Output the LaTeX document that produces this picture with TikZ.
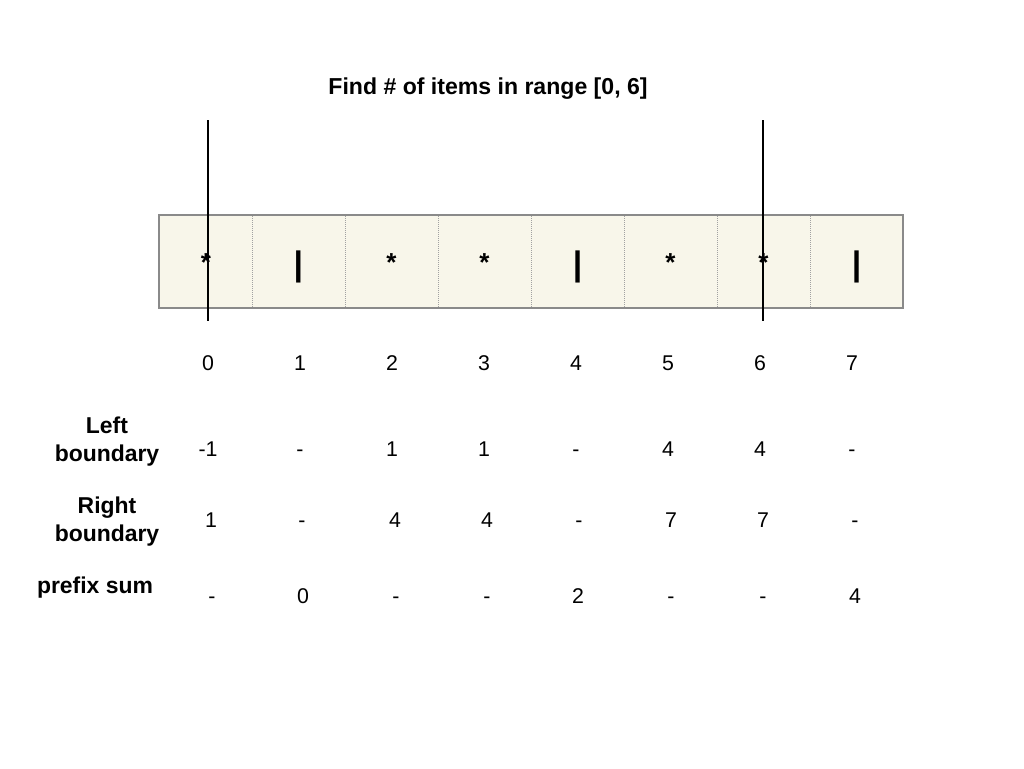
\documentclass[tikz,border=0pt]{standalone}
\usepackage{fontspec}
\setmainfont{Liberation Sans}
\definecolor{cellfill}{HTML}{F8F6EA}
\definecolor{cellborder}{HTML}{8A8A8A}
\begin{document}
\begin{tikzpicture}[x=0.75pt,y=-0.75pt,
  every node/.style={inner sep=0pt,outer sep=0pt},
  bartxt/.style={anchor=base,font=\fontsize{25.5}{28}\selectfont\bfseries},
  startxt/.style={anchor=base,font=\fontsize{19.5}{22}\selectfont\bfseries},
  idx/.style={anchor=base,font=\fontsize{16}{20}\selectfont},
  rowlabel/.style={align=center,font=\fontsize{17.2}{21}\selectfont\bfseries},
  marker/.style={line width=1.5pt,black}]
\useasboundingbox (0,0) rectangle (1024,768);
% title
\node[anchor=base,font=\fontsize{17.3}{20}\selectfont\bfseries] (title) at (488,94) {Find \# of items in range [0, 6]};
% array strip
\draw[fill=cellfill,draw=cellborder,line width=0.9pt] (159,215) rectangle (903,308);
\foreach \x in {252,345,438,531,624,717,810}
  \draw[cellborder!80,densely dotted,line width=0.5pt] (\x,216) -- (\x,307);
% cell contents
\node[startxt] (c0) at (206,271) {*};
\node[bartxt] (c1) at (298.5,275) {|};
\node[startxt] (c2) at (391.5,271) {*};
\node[startxt] (c3) at (484.5,271) {*};
\node[bartxt] (c4) at (577.5,275) {|};
\node[startxt] (c5) at (670.5,271) {*};
\node[startxt] (c6) at (763.5,271) {*};
\node[bartxt] (c7) at (856.5,275) {|};
% range markers
\coordinate (l0) at (208,120); \coordinate (l1) at (208,321);
\coordinate (r0) at (763,120); \coordinate (r1) at (763,321);
\draw[marker] (l0) -- (l1);
\draw[marker] (r0) -- (r1);
% indices
\foreach \x/\t [count=\i] in {208/0,300/1,392/2,484/3,576/4,668/5,760/6,852/7}
  \node[idx] (i\i) at (\x,370) {\t};
% left boundary
\node[rowlabel] (lb) at (107,442) {Left\\boundary};
\foreach \x/\t [count=\i] in {208/-1,300/-,392/1,484/1,576/-,668/4,760/4,852/-}
  \node[idx] (lb\i) at (\x,456) {\t};
% right boundary
\node[rowlabel] (rb) at (107,522) {Right\\boundary};
\foreach \x/\t [count=\i] in {211/1,302/-,395/4,487/4,579/-,671/7,763/7,855/-}
  \node[idx] (rb\i) at (\x,527) {\t};
% prefix sum
\node[rowlabel] (ps) at (95,588) {prefix sum};
\foreach \x/\t [count=\i] in {212/-,303/0,396/-,487/-,578/2,671/-,763/-,855/4}
  \node[idx] (ps\i) at (\x,603) {\t};
\end{tikzpicture}
\end{document}
